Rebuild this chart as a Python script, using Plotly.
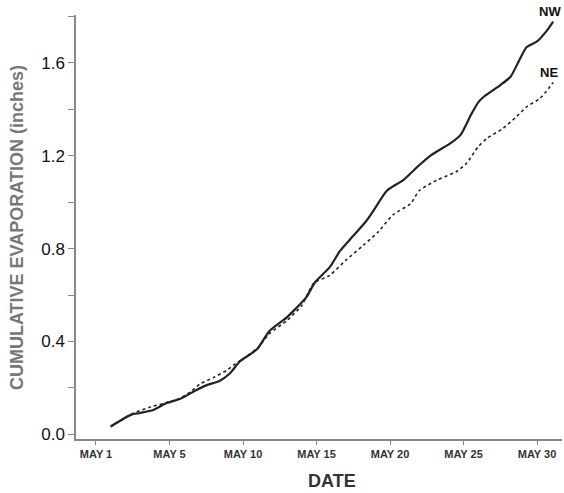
import plotly.graph_objects as go

# Day index (tick 0 is labelled "MAY 1" in the original figure)
nw_day = [1.0, 2.4, 3.0, 3.9, 4.8, 5.7, 6.8, 7.5, 8.4, 9.1, 9.8, 10.5, 11.0, 11.8,
          13.0, 14.3, 14.9, 15.9, 16.6, 17.5, 18.4, 18.9, 19.8, 20.9, 22.0, 22.8,
          24.1, 24.8, 25.5, 26.0, 26.4, 27.5, 28.2, 28.8, 29.3, 30.0, 30.7, 31.1]
nw_evap = [0.034, 0.085, 0.092, 0.105, 0.135, 0.152, 0.190, 0.211, 0.230, 0.262,
           0.315, 0.345, 0.370, 0.445, 0.505, 0.590, 0.655, 0.720, 0.790, 0.855,
           0.920, 0.966, 1.050, 1.095, 1.160, 1.203, 1.253, 1.290, 1.375, 1.430,
           1.455, 1.504, 1.540, 1.612, 1.668, 1.692, 1.741, 1.777]

ne_day = [1.0, 2.5, 3.7, 5.0, 5.7, 6.4, 7.1, 8.0, 8.9, 9.5, 10.0, 11.0, 11.8, 13.0,
          14.0, 14.8, 15.9, 17.0, 18.2, 19.2, 20.2, 21.4, 22.0, 23.2, 24.5, 25.2,
          26.0, 26.6, 27.7, 28.6, 29.3, 30.2, 31.1]
ne_evap = [0.034, 0.090, 0.118, 0.140, 0.155, 0.182, 0.218, 0.245, 0.276, 0.305,
           0.325, 0.372, 0.434, 0.491, 0.555, 0.650, 0.685, 0.750, 0.815, 0.872,
           0.945, 0.994, 1.050, 1.095, 1.131, 1.167, 1.239, 1.275, 1.318, 1.368,
           1.411, 1.447, 1.515]

x_tickvals = [0, 5, 10, 15, 20, 25, 30]
x_ticktext = ["MAY 1", "MAY 5", "MAY 10", "MAY 15", "MAY 20", "MAY 25", "MAY 30"]
y_tickvals = [0.0, 0.2, 0.4, 0.6, 0.8, 1.0, 1.2, 1.4, 1.6, 1.8]
y_ticktext = ["0.0", "", "0.4", "", "0.8", "", "1.2", "", "1.6", ""]

FONT = "Liberation Sans, Arial, sans-serif"

fig = go.Figure()
fig.add_trace(go.Scatter(x=nw_day, y=nw_evap, mode="lines", name="NW",
                         line=dict(color="#222222", width=2.2, shape="spline", smoothing=0.6)))
fig.add_trace(go.Scatter(x=ne_day, y=ne_evap, mode="lines", name="NE",
                         line=dict(color="#222222", width=1.6, dash="dot", shape="spline", smoothing=0.6)))

fig.add_annotation(x=nw_day[-1], y=nw_evap[-1], text="<b>NW</b>", showarrow=False,
                   xanchor="center", yanchor="bottom", xshift=-3, yshift=1,
                   font=dict(family=FONT, size=13, color="#111"))
fig.add_annotation(x=ne_day[-1], y=ne_evap[-1], text="<b>NE</b>", showarrow=False,
                   xanchor="center", yanchor="bottom", xshift=-4, yshift=1,
                   font=dict(family=FONT, size=13, color="#111"))

fig.add_annotation(x=0.527, y=-0.099, xref="paper", yref="paper", text="<b>DATE</b>",
                   showarrow=False, xanchor="center", yanchor="middle",
                   font=dict(family=FONT, size=18, color="#333"))
fig.add_annotation(x=-0.121, y=0.498, xref="paper", yref="paper",
                   text="<b>CUMULATIVE EVAPORATION (inches)</b>", textangle=-90,
                   showarrow=False, xanchor="center", yanchor="middle",
                   font=dict(family=FONT, size=18, color="#777"))

fig.update_xaxes(range=[-1.36, 31.7], tickvals=x_tickvals, ticktext=x_ticktext,
                 showgrid=False, zeroline=False, showline=True, linecolor="#888", linewidth=1.5,
                 ticks="outside", ticklen=4, tickcolor="#888",
                 tickfont=dict(family=FONT, size=11, color="#333", weight="bold"))
fig.update_yaxes(range=[-0.02, 1.806], tickvals=y_tickvals, ticktext=y_ticktext,
                 showgrid=False, zeroline=False, showline=True, linecolor="#888", linewidth=1.5,
                 ticks="outside", ticklen=6, tickcolor="#888",
                 tickfont=dict(family=FONT, size=17, color="#111"))

fig.update_layout(width=564, height=493, plot_bgcolor="white", paper_bgcolor="white",
                  showlegend=False, margin=dict(l=76, r=2, t=15, b=54))

# remove the default page margin so the figure fills the window exactly
fig.write_html("out.html", config={"displayModeBar": False},
               post_script="document.body.style.margin='0';document.body.style.overflow='hidden';")
